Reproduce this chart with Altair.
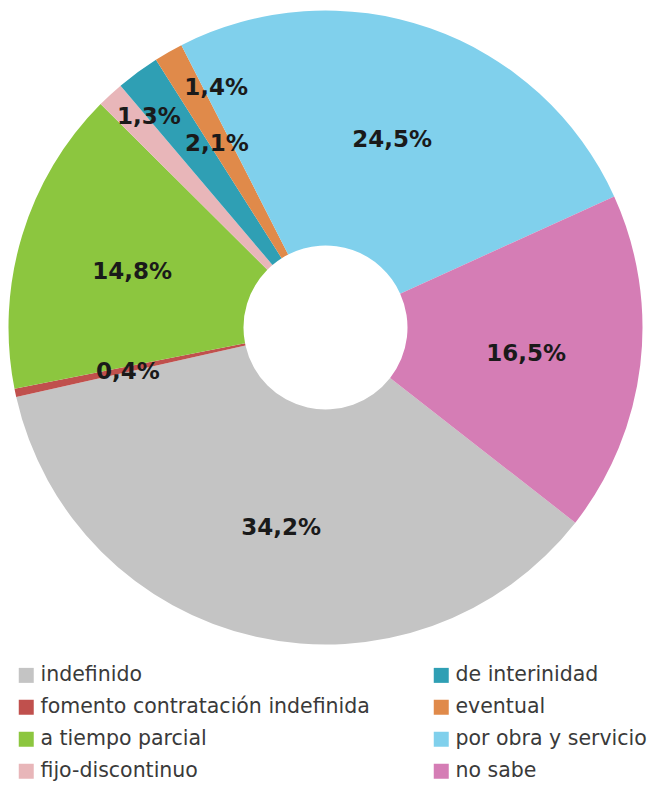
import altair as alt
import pandas as pd

# ---- data ----
categories = ["indefinido", "fomento contratación indefinida", "a tiempo parcial",
              "fijo-discontinuo", "de interinidad", "eventual",
              "por obra y servicio", "no sabe"]
values = [34.2, 0.4, 14.8, 1.3, 2.1, 1.4, 24.5, 16.5]
labels = ["34,2%", "0,4%", "14,8%", "1,3%", "2,1%", "1,4%", "24,5%", "16,5%"]
colors = ["#c4c4c4", "#c0504d", "#8cc63f", "#e8b6b9", "#2f9fb4", "#e08a4a",
          "#80d0ec", "#d57db5"]

# ---- styling ----
total = sum(values)
start = 2.234  # radians, where the first slice begins (clockwise from top)
cx, cy = 317.5, 319.5
outer_r, inner_r = 317, 82
main_label_r = 202
# per-label nudges for the thin slices: (radius, dx, dy)
small_label_style = {
    "fijo-discontinuo": (275, 10, -9),
    "de interinidad": (214, 18, -11),
    "eventual": (263, 21, -11),
}

df = pd.DataFrame({"cat": categories, "value": values, "label": labels,
                   "idx": list(range(len(categories)))})

# legend order: interleaved so row-major 2-column legend reads column-wise
legend_order = []
half = len(categories) // 2
for i in range(half):
    legend_order += [categories[i], categories[i + half]]
legend_colors = [colors[categories.index(c)] for c in legend_order]

theta_scale = alt.Scale(domain=[0, total], range=[start, start + 2 * 3.141592653589793])

base = alt.Chart(df).transform_window(
    cum="sum(value)", sort=[alt.SortField("idx")], frame=[None, 0]
).transform_calculate(mid="datum.cum - datum.value / 2")

arcs = base.mark_arc(outerRadius=outer_r, innerRadius=inner_r, stroke=None).encode(
    theta=alt.Theta("value:Q", stack=True, scale=theta_scale),
    order=alt.Order("idx:Q"),
    color=alt.Color("cat:N", scale=alt.Scale(domain=legend_order, range=legend_colors),
                    legend=alt.Legend(title=None, orient="none", legendX=8, legendY=657,
                                      columns=2, direction="horizontal",
                                      symbolType="square", symbolSize=225,
                                      symbolStrokeWidth=0, labelFont="DejaVu Sans",
                                      labelFontSize=20.5, labelColor="#3a3a3a",
                                      labelOffset=4, labelLimit=0,
                                      columnPadding=61, rowPadding=11, padding=0)),
    x=alt.value(cx), y=alt.value(cy),
)

text_props = dict(font="DejaVu Sans", fontSize=23, fontWeight="bold", color="#1a1a1a",
                  align="center", baseline="middle")

small_cats = list(small_label_style.keys())
main_text = base.transform_filter(
    ~alt.FieldOneOfPredicate(field="cat", oneOf=small_cats)
).mark_text(radius=main_label_r, dy=3, **text_props).encode(
    theta=alt.Theta("mid:Q", stack=None, scale=theta_scale),
    text="label:N", x=alt.value(cx), y=alt.value(cy),
)

layers = [arcs, main_text]
for cat, (r, dx, dy) in small_label_style.items():
    layers.append(
        base.transform_filter(alt.datum.cat == cat)
        .mark_text(radius=r, dx=dx, dy=dy, **text_props)
        .encode(theta=alt.Theta("mid:Q", stack=None, scale=theta_scale),
                text="label:N", x=alt.value(cx), y=alt.value(cy))
    )

chart = alt.layer(*layers).properties(
    width=643, height=773, padding=0,
    autosize=alt.AutoSizeParams(type="none"),
).configure_view(stroke=None)

chart.save("out.html", embed_options={"renderer": "svg", "actions": False})
